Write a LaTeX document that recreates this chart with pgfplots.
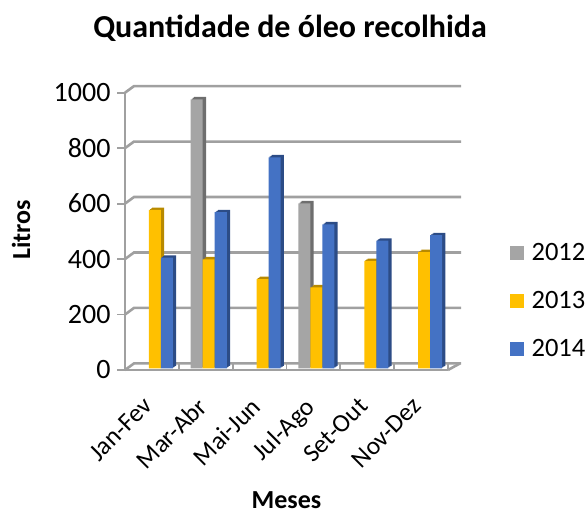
\documentclass[border=0pt]{standalone}
\usepackage{fontspec}
\setmainfont{Carlito}
\usepackage{pgfplots}
\pgfplotsset{compat=1.18}
\definecolor{gridc}{HTML}{A0A0A0}
\definecolor{grayF}{HTML}{A5A5A5}\definecolor{grayS}{HTML}{6E6E6E}
\definecolor{yelF}{HTML}{FFC000}\definecolor{yelS}{HTML}{B88A00}
\definecolor{bluF}{HTML}{4472C4}\definecolor{bluS}{HTML}{2C4C86}
\newcommand{\barset}[4]{%
 \addplot[ybar,forget plot,bar width=12pt,bar shift=#1,draw=none,fill=#3,xshift=3.3pt,yshift=4.1pt] coordinates {#4};
 \addplot[ybar,forget plot,bar width=12pt,bar shift=#1,draw=none,fill=#3,xshift=2.2pt,yshift=3.3pt] coordinates {#4};
 \addplot[ybar,forget plot,bar width=12pt,bar shift=#1,draw=none,fill=#3,xshift=1.1pt,yshift=2.5pt] coordinates {#4};
 \addplot[ybar,forget plot,bar width=12pt,bar shift=#1,draw=none,fill=#2,xshift=0pt,yshift=1.7pt] coordinates {#4};
}
\newcommand{\backline}[1]{%
 \draw[gridc,line width=2.6pt] (axis cs:0,#1) -- ++(9pt,6.6pt) -- ++(327pt,0pt);
}
\begin{document}
\begin{tikzpicture}[x=1pt,y=1pt]
\path[use as bounding box] (-125,-140) rectangle (461,370);
\begin{axis}[
 at={(0,0)},anchor=south west,scale only axis,width=323pt,height=277.3pt,
 xmin=0,xmax=6,ymin=0,ymax=1000,clip=false,
 axis x line*=bottom,axis y line*=left,
 axis line style={gridc,line width=2.6pt,-},
 every tick/.style={gridc,line width=1.8pt},
 xtick={0.5,1.5,2.5,3.5,4.5,5.5},
 xticklabels={Jan-Fev,Mar-Abr,Mai-Jun,Jul-Ago,Set-Out,Nov-Dez},
 minor xtick={0,1,2,3,4,5,6},
 major tick length=0pt,minor tick length=7pt,
 x tick label style={rotate=45,anchor=north east,font=\fontsize{25.5}{25.5}\selectfont,yshift=-8pt,xshift=-22pt},
 ytick={0,200,400,600,800,1000},
 y tick label style={font=\fontsize{28}{28}\selectfont,xshift=-11pt},
 /pgf/number format/assume math mode=true,
 /pgf/number format/1000 sep={},
 title={\textbf{Quantidade de óleo recolhida}},
 title style={at={(axis description cs:0.511,1.212)},anchor=center,font=\fontsize{32}{32}\selectfont},
 xlabel={\textbf{Meses}},
 xlabel style={at={(axis description cs:0.50,-0.468)},anchor=center,font=\fontsize{26}{26}\selectfont},
 ylabel={\textbf{Litros}},
 ylabel style={at={(axis description cs:-0.322,0.505)},anchor=center,font=\fontsize{26}{26}\selectfont},
 legend style={at={(385pt,10pt)},anchor=south west,draw=none,fill=none,font=\fontsize{26.5}{26.5}\selectfont,row sep=25pt,inner sep=0pt,/tikz/column 1/.style={column sep=6pt}},
 legend cell align=left,
 legend image code/.code={\fill[#1] (0pt,-6.5pt) rectangle (13pt,6.5pt);},
]
\backline{0}\backline{200}\backline{400}\backline{600}\backline{800}\backline{1000}
\draw[gridc,line width=2.6pt] (axis cs:6,0) -- ++(12pt,6.6pt);
\foreach \v in {0,200,400,600,800,1000}{\edef\tmp{\noexpand\draw[gridc,line width=1.8pt] (axis cs:0,\v) -- ++(-8pt,0pt);}\tmp}
\barset{-9pt}{grayF}{grayS}{(1.5,970) (3.5,595)}
\barset{3pt}{yelF}{yelS}{(0.5,571) (1.5,393) (2.5,322) (3.5,292) (4.5,387) (5.5,419)}
\barset{15pt}{bluF}{bluS}{(0.5,399) (1.5,563) (2.5,761) (3.5,519) (4.5,460) (5.5,480)}
\addlegendimage{grayF}\addlegendentry{2012}
\addlegendimage{yelF}\addlegendentry{2013}
\addlegendimage{bluF}\addlegendentry{2014}
\end{axis}
\end{tikzpicture}
\end{document}
